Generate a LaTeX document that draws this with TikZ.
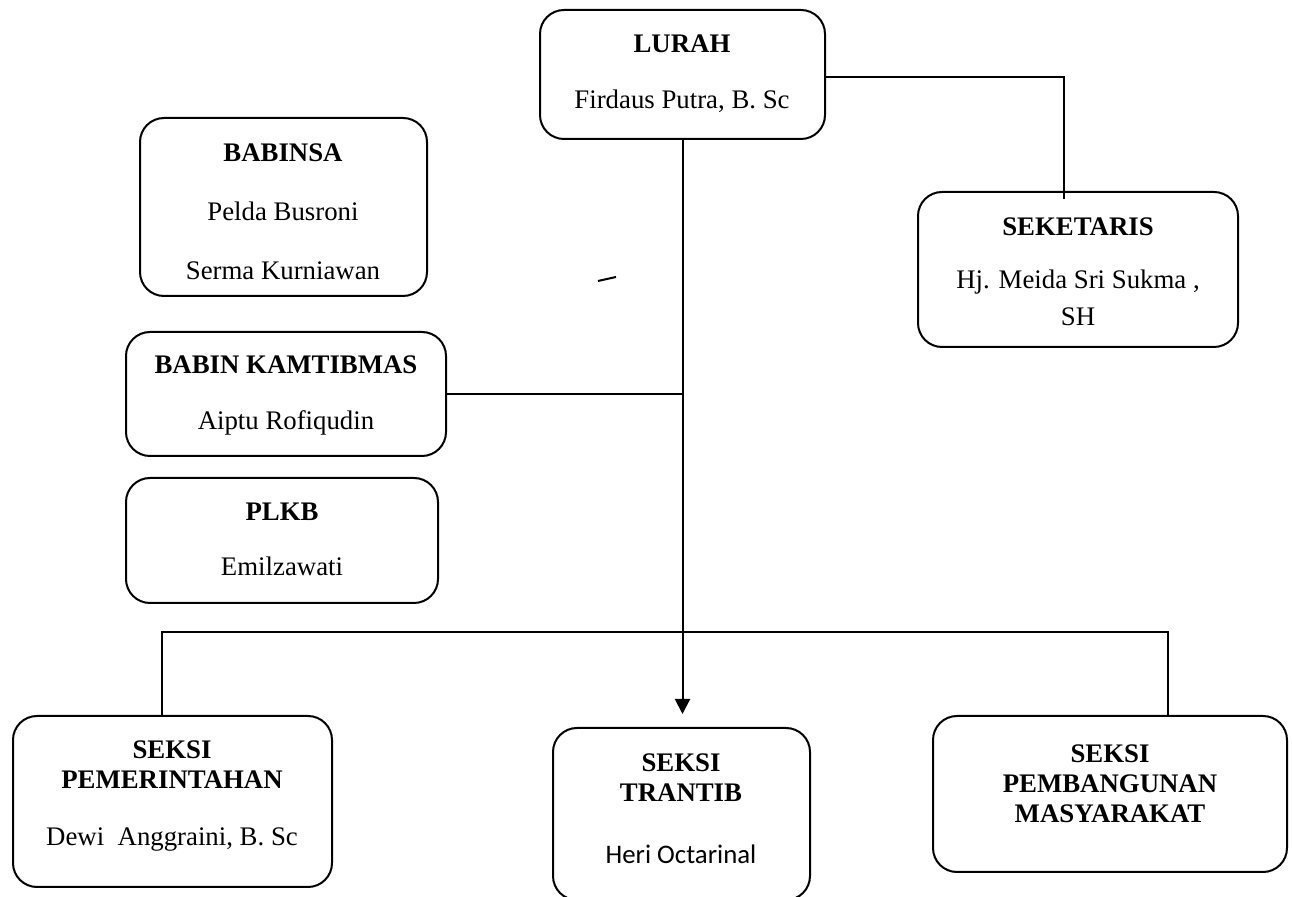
\documentclass[tikz,border=0pt]{standalone}
\usepackage{fontspec}
\setmainfont{Liberation Serif}
\newfontfamily\calibri{Carlito}
\usepackage{tikz}
\usetikzlibrary{arrows.meta}
\usetikzlibrary{positioning}
\tikzset{kotak/.style={draw, line width=1pt, rounded corners=12pt, inner sep=0pt},
	isi/.style={align=center, inner sep=0pt, font=\fontsize{13.4}{15}\selectfont},
	garis/.style={line width=1pt}}
\begin{document}
\begin{tikzpicture}[x=0.5pt, y=-0.5pt]
				\useasboundingbox (0,0) rectangle (1292,897);
				\node (lurah) 	[kotak, minimum width=142.5pt, minimum height=64.5pt] at (682.5,74.5) {};
				\node (babinsa) 	[kotak, minimum width=143.5pt, minimum height=89pt] at (283.5,207) {};
				\node (seketaris) 	[kotak, minimum width=160pt, minimum height=77.5pt] at (1078,269.5) {};
				\node (kamtib) 	[kotak, minimum width=160pt, minimum height=62pt] at (286,394) {};
				\node (plkb) 	[kotak, minimum width=156pt, minimum height=62.5pt] at (282,540.5) {};
				\node (pemerintahan) 	[kotak, minimum width=159.5pt, minimum height=85.5pt] at (172.5,801.5) {};
				\node (trantib) 	[kotak, minimum width=128.5pt, minimum height=86pt] at (681.5,814) {};
				\node (pembangunan) 	[kotak, minimum width=177pt, minimum height=78pt] at (1110,794) {};
				\node (lurah-t) 	[isi] at (682,74) {\textbf{LURAH}\\[13pt] Firdaus Putra, B. Sc};
				\node (babinsa-t) 	[isi] at (283,211.5) {\textbf{BABINSA}\\[14.5pt] Pelda Busroni\\[14.5pt] Serma Kurniawan};
				\node (seketaris-t) 	[isi] at (1078,272) {\textbf{SEKETARIS}\\[11.5pt] Hj. Meida Sri Sukma ,\\[3.5pt] SH};
				\node (kamtib-t) 	[isi] at (286,395) {\textbf{BABIN KAMTIBMAS}\\[13pt] Aiptu Rofiqudin};
				\node (plkb-t) 	[isi] at (282,539.5) {\textbf{PLKB}\\[12.5pt] Emilzawati};
				\node (pemerintahan-t) 	[isi] at (172,796.5) {\textbf{SEKSI}\\ \textbf{PEMERINTAHAN}\\[13.5pt] Dewi\ \ Anggraini, B. Sc};
				\node (trantib-t) 	[isi] at (681,809) {\textbf{SEKSI}\\ \textbf{TRANTIB}\\[16pt] {\calibri Heri Octarinal}};
				\node (pembangunan-t) 	[isi] at (1110,784) {\textbf{SEKSI}\\ \textbf{PEMBANGUNAN}\\ \textbf{MASYARAKAT}};
				\coordinate (sek-in) at (1064,199);
				\coordinate (bus-l) at (162,632);
				\coordinate (bus-r) at (1168,632);
				\draw[garis] 	([yshift=-1.5pt]lurah.east) -| (sek-in);
				\draw[garis, -{Triangle[width=7.5pt, length=7.5pt]}, shorten >=6.5pt] 	(lurah.south) -- (lurah.south |- trantib.north);
				\draw[garis] 	(kamtib.east) -- (kamtib.east -| lurah.south);
				\draw[garis] 	(bus-l |- pemerintahan.north) -- (bus-l) -- (bus-r) -- (bus-r |- pembangunan.north);
				\draw[garis] 	(598,281) -- (616,277);
\end{tikzpicture}
\end{document}
